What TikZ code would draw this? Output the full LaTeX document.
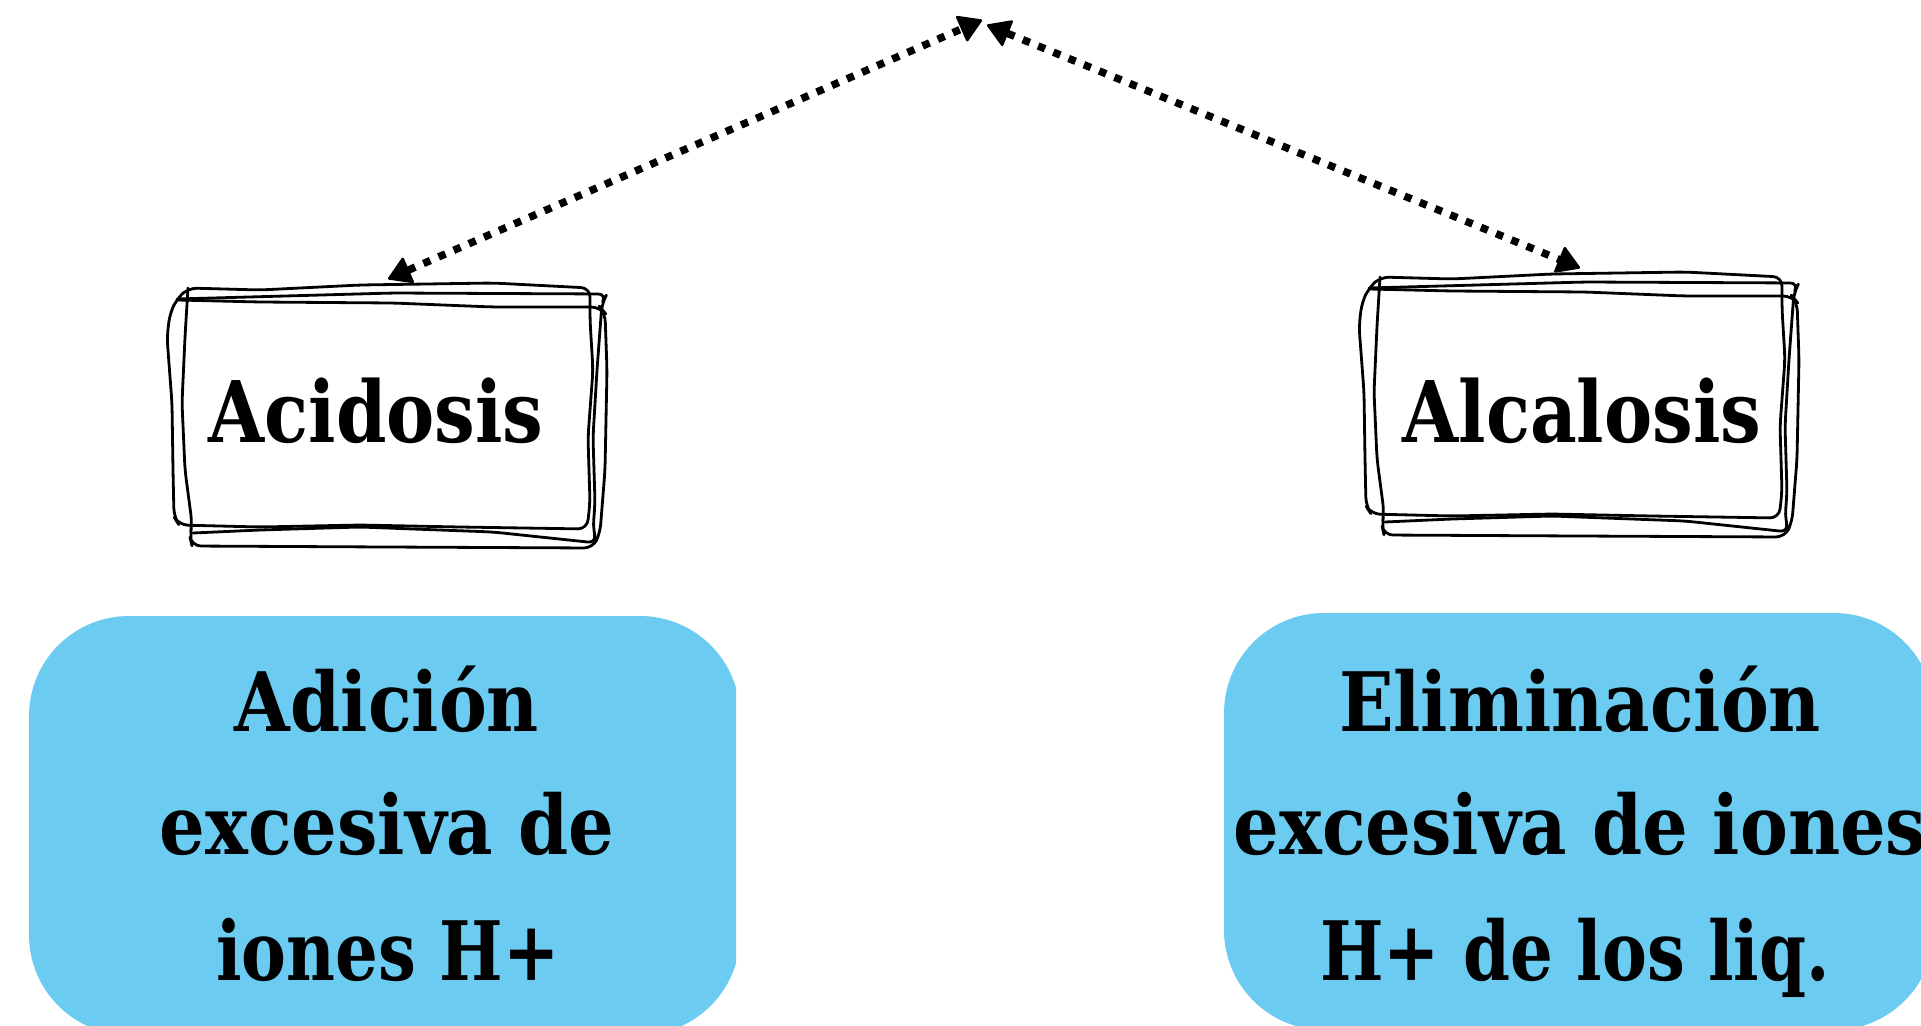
\documentclass[tikz,border=0pt]{standalone}
\usepackage{fontspec}
\newfontfamily\bree{DejaVu Serif}[FakeStretch=0.85]
\newfontfamily\breew{DejaVu Serif}[FakeStretch=0.875]
\newfontfamily\breen{DejaVu Serif}[FakeStretch=0.82]
\usetikzlibrary{arrows.meta,calc}
\definecolor{skyfill}{RGB}{107,203,240}
\tikzset{
  lbl/.style={font=\bree\bfseries\fontsize{85}{90}\selectfont, inner sep=0pt, anchor=base},
  blbl/.style={font=\breew\bfseries\fontsize{82}{90}\selectfont, inner sep=0pt, anchor=base},
  nblbl/.style={font=\breen\bfseries\fontsize{82}{90}\selectfont, inner sep=0pt, anchor=base},
  sketchline/.style={line width=2.8pt, rounded corners=9pt, line join=round, line cap=round},
  dotarrow/.style={line width=7.5pt, dash pattern=on 7.5pt off 9pt,
    {Triangle[length=24pt,width=29pt,round,line width=2.5pt]}-{Triangle[length=24pt,width=29pt,round,line width=2.5pt]}},
  sketchbox/.pic={
    \draw[sketchline] (-199,-129) -- (-210,-118) -- (-217,-104) -- (-220,-80) -- (-215,-14) -- (-214,53) -- (-213,100) -- (-208,108)
      -- (-127,110) -- (-27,108) -- (73,110) -- (200,112) -- (203,86) -- (201,20) -- (206,-47) -- (203,-97) -- (203,-129)
      -- (106,-134) -- (-27,-132) -- (-127,-127) -- cycle;
    \draw[sketchline] (-199,-129) -- (-202,-80) -- (-205,-14) -- (-202,53) -- (-195,106) -- (-197,120) -- (-195,129)
      -- (0,130) -- (206,131) -- (213,116) -- (218,53) -- (220,-47) -- (218,-104) -- (213,-110)
      -- (106,-110) -- (6,-114) -- (-127,-115) -- (-210,-117);
    \draw[sketchline] (-210,-118) -- (6,-124) -- (220,-123) -- (215,-114) -- (210,-47) -- (206,20) -- (208,86) -- (206,113)
      -- (210,126) -- (106,115) -- (-27,110) -- (-127,113) -- (-194,116);
  }
}
\begin{document}
\begin{tikzpicture}[x=1pt,y=-1pt]
\useasboundingbox (0,0) rectangle (1921,1025);
% blue boxes
\begin{scope}
\clip (0,0) rectangle (736,1025);
\fill[skyfill] (129,616) -- (640,616) arc[start angle=-90,end angle=0,radius=100]
  -- (740,935) arc[start angle=0,end angle=90,radius=100]
  -- (129,1035) arc[start angle=90,end angle=180,radius=100]
  -- (29,716) arc[start angle=180,end angle=270,radius=100] -- cycle;
\end{scope}
\fill[skyfill] (1324,613) -- (1834,613) arc[start angle=-90,end angle=0,radius=100]
  -- (1934,930) arc[start angle=0,end angle=90,radius=100]
  -- (1324,1030) arc[start angle=90,end angle=180,radius=100]
  -- (1224,713) arc[start angle=180,end angle=270,radius=100] -- cycle;
% sketch boxes
\coordinate (acidbox) at (387,417);
\coordinate (alcabox) at (1579,406);
\pic at (acidbox) {sketchbox};
\pic at (alcabox) {sketchbox};
\node[lbl] (acid) at (376,442) {Acidosis};
\node[lbl] (alca) at (1582,442) {Alcalosis};
% texts in blue boxes
\node[blbl] (l1) at (387,731) {Adición};
\node[blbl] (l2) at (387,854) {excesiva de};
\node[nblbl] (l3) at (388,980) {iones H+};
\node[blbl] (r1) at (1580,731) {Eliminación};
\node[blbl] (r2) at (1580,854) {excesiva de iones};
\node[nblbl] (r3) at (1575,980) {H+ de los liq.};
% arrows
\coordinate (apexL) at (982,20);
\coordinate (apexR) at (987,25);
\draw[dotarrow] ($(acidbox)+(1,-138)$) -- (apexL);
\draw[dotarrow] (apexR) -- ($(alcabox)+(1,-138)$);
\end{tikzpicture}
\end{document}
